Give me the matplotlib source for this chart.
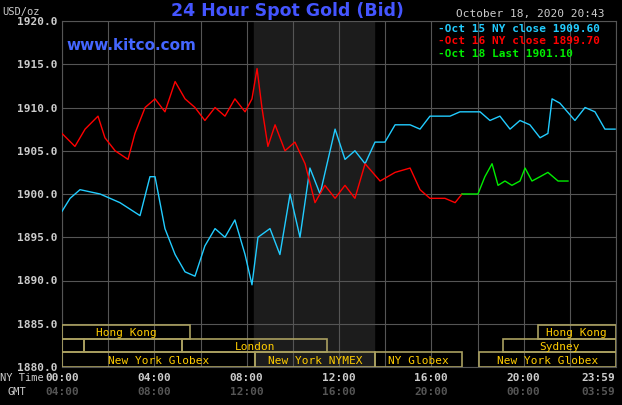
import matplotlib
matplotlib.use("Agg")
import matplotlib.pyplot as plt
from matplotlib.patches import Rectangle

blue_h = [0,0.35,0.78,1.65,2.51,3.38,3.81,4.03,4.46,4.9,5.33,5.76,6.19,6.63,7.06,7.49,7.93,8.23,8.49,9.01,9.44,9.88,10.31,10.74,11.18,11.83,12.26,12.69,13.13,13.56,13.99,14.43,15.08,15.51,15.94,16.81,17.24,18.11,18.54,18.97,19.41,19.84,20.27,20.71,21.05,21.23,21.57,22.22,22.66,23.09,23.52,23.96]
blue_v = [1898,1899.5,1900.5,1900,1899,1897.5,1902,1902,1896,1893,1891,1890.5,1894,1896,1895,1897,1893,1889.5,1895,1896,1893,1900,1895,1903,1900,1907.5,1904,1905,1903.5,1906,1906,1908,1908,1907.5,1909,1909,1909.5,1909.5,1908.5,1909,1907.5,1908.5,1908,1906.5,1907,1911,1910.5,1908.5,1910,1909.5,1907.5,1907.5]
red_h = [0,0.56,1.0,1.56,1.86,2.3,2.86,3.16,3.6,4.03,4.46,4.9,5.33,5.76,6.19,6.63,7.06,7.49,7.93,8.23,8.45,8.66,8.92,9.23,9.66,10.09,10.53,10.96,11.39,11.83,12.26,12.69,13.13,13.78,14.43,15.08,15.51,15.94,16.59,17.03,17.33]
red_v = [1907,1905.5,1907.5,1909,1906.5,1905,1904,1907,1910,1911,1909.5,1913,1911,1910,1908.5,1910,1909,1911,1909.5,1911,1914.5,1910,1905.5,1908,1905,1906,1903.5,1899,1901,1899.5,1901,1899.5,1903.5,1901.5,1902.5,1903,1900.5,1899.5,1899.5,1899,1900]
green_h = [17.33,18.02,18.32,18.63,18.89,19.19,19.49,19.84,20.06,20.36,20.71,21.05,21.49,21.92]
green_v = [1900,1900,1902,1903.5,1901,1901.5,1901,1901.5,1903,1901.5,1902,1902.5,1901.5,1901.5]
y_ticks = [1880,1885,1890,1895,1900,1905,1910,1915,1920]
ny_labels = ["00:00","04:00","08:00","12:00","16:00","20:00","23:59"]
gmt_labels = ["04:00","08:00","12:00","16:00","20:00","00:00","03:59"]
legend = ["Oct 15 NY close 1909.60","Oct 16 NY close 1899.70","Oct 18 Last 1901.10"]
sessions = [  # (start, end, row, label)
    (0,5.54,0,"Hong Kong"),(20.6,24,0,"Hong Kong"),
    (0,0.95,1,""),(0.95,5.2,1,""),(5.2,11.5,1,"London"),(19.1,24,1,"Sydney"),
    (0,8.36,2,"New York Globex"),(8.36,13.56,2,"New York NYMEX"),(13.56,17.33,2,"NY Globex"),(18.06,24,2,"New York Globex")]
rows = [(1883.24,1884.86),(1881.73,1883.24),(1880,1881.73)]

mono = "DejaVu Sans Mono"
fig = plt.figure(figsize=(6.22,4.06), dpi=100, facecolor="black")
ax = fig.add_axes([62/622, 38/406, 554/622, 346/406], facecolor="black")
ax.set_xlim(0,24); ax.set_ylim(1880,1920)
ax.axvspan(8.32,13.5,color="#1c1c1c",zorder=0)
for h in range(0,25,2):
    ax.axvline(h,color="#555555",lw=0.8,zorder=1)
for v in y_ticks:
    ax.axhline(v,color="#555555",lw=0.8,zorder=1)
for s in ax.spines.values(): s.set_color("#555555")
ax.set_xticks([]); ax.set_yticks([])
ax.plot(blue_h,blue_v,color="#22ccff",lw=1,zorder=3)
ax.plot(red_h,red_v,color="#ff0000",lw=1,zorder=3)
ax.plot(green_h,green_v,color="#00ee00",lw=1,zorder=3)
for a,b,r,lab in sessions:
    lo,hi = rows[r]
    ax.add_patch(Rectangle((a,lo),b-a,hi-lo,fill=False,ec="#aaa060",lw=1.2,zorder=4))
    if lab:
        ax.text((a+b)/2,(lo+hi)/2,lab,color="#ffcc00",fontsize=8,family=mono,ha="center",va="center",zorder=5)
for v in y_ticks:
    fig.text(58/622, (38+(v-1880)*346/40)/406, f"{v:.1f}", color="#cccccc", fontsize=8, family=mono, weight="bold", ha="right", va="center")
fig.text(2/622,1-12/406,"USD/oz",color="#cccccc",fontsize=7.5,family=mono,va="center")
xs=[0,4,8,12,16,20,23.98]
for h,a,b in zip(xs,ny_labels,gmt_labels):
    x=(62+h/24*554)/622
    ha="center" if h<23 else "right"
    if h==0: ha="center"
    fig.text(x,1-378/406,a,color="#cccccc",fontsize=8,family=mono,weight="bold",ha=ha,va="center")
    fig.text(x,1-392/406,b,color="#555555",fontsize=8,family=mono,weight="bold",ha=ha,va="center")
fig.text(0,1-378/406,"NY Time",color="#cccccc",fontsize=7.5,family=mono,va="center")
fig.text(8/622,1-392/406,"GMT",color="#cccccc",fontsize=7.5,family=mono,va="center")
fig.text(287/622,1-11/406,"24 Hour Spot Gold (Bid)",color="#4455ff",fontsize=12.5,weight="bold",ha="center",va="center")
fig.text(66/622,1-45/406,"www.kitco.com",color="#4466ff",fontsize=11,weight="bold",va="center")
fig.text(605/622,1-14/406,"October 18, 2020 20:43",color="#cccccc",fontsize=8,family=mono,ha="right",va="center")
for i,(t,c) in enumerate(zip(legend,["#22ccff","#ff0000","#00ee00"])):
    fig.text(438/622,1-(29+i*12.5)/406,"-"+t,color=c,fontsize=8,family=mono,weight="bold",va="center")
fig.savefig("out.png",dpi=100,facecolor="black")
